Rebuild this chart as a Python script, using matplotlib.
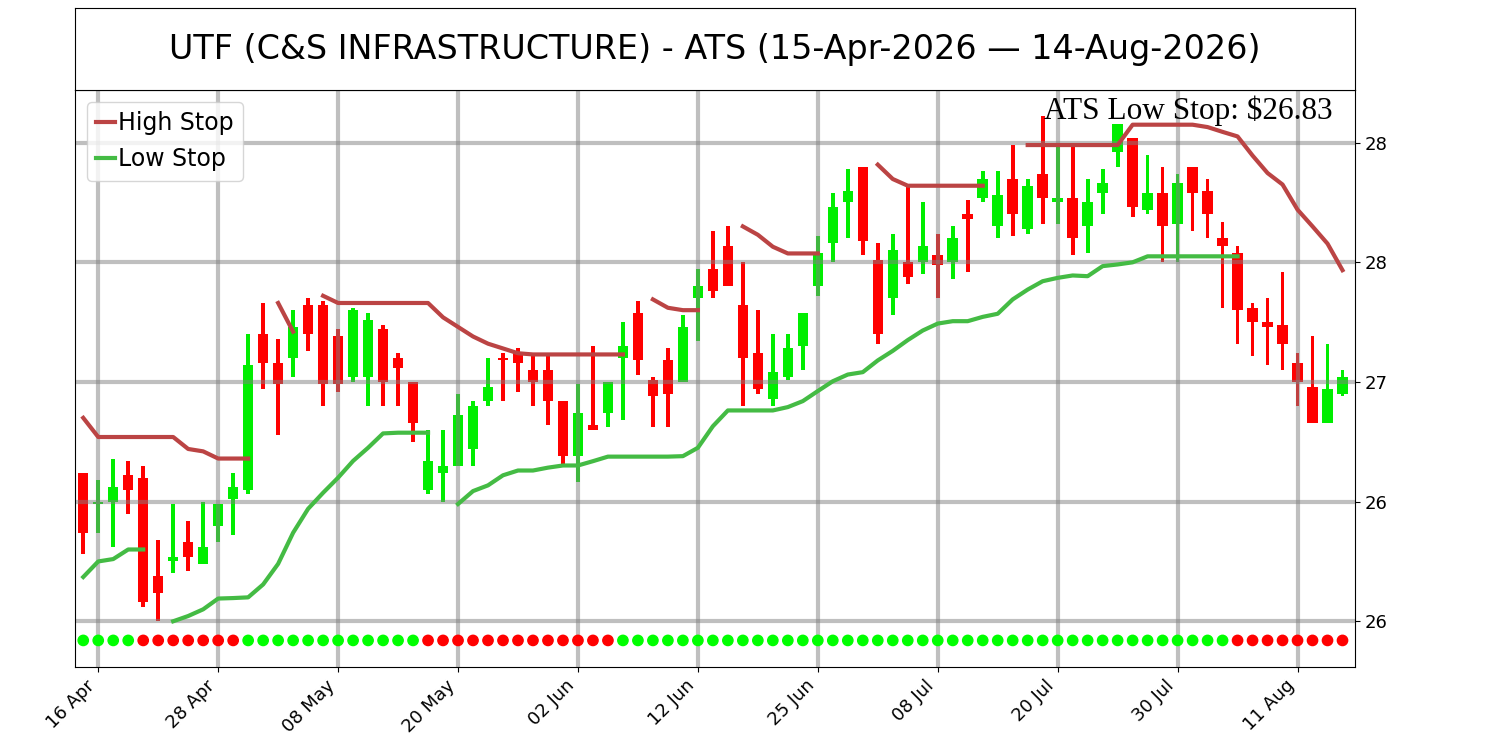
import numpy as np
import pandas as pd
import matplotlib
matplotlib.use("Agg")
import matplotlib.pyplot as plt
from matplotlib.ticker import MultipleLocator, FormatStrFormatter

# trading days 15 Apr - 14 Aug 2026 (US market holidays removed)
holidays = ["2026-05-25", "2026-06-19", "2026-07-03"]
dates = pd.bdate_range("2026-04-15", "2026-08-14", freq="C", holidays=holidays)

opens = [26.62, 26.49, 26.50, 26.61, 26.60, 26.19, 26.25, 26.33, 26.24, 26.40,
         26.51, 26.55, 27.20, 27.08, 27.10, 27.32, 27.32, 27.19, 27.02, 27.02,
         27.22, 27.10, 27.00, 26.55, 26.62, 26.65, 26.72, 26.92, 27.10, 27.12,
         27.05, 27.05, 26.92, 26.69, 26.82, 26.87, 27.10, 27.29, 27.01, 27.09,
         27.00, 27.35, 27.47, 27.57, 27.32, 27.12, 26.93, 27.02, 27.15, 27.40,
         27.58, 27.75, 27.90, 27.51, 27.35, 27.50, 27.50, 27.53, 27.50, 27.70,
         27.77, 27.65, 27.85, 27.64, 27.87, 27.75, 27.77, 27.65, 27.79, 27.96,
         28.02, 27.72, 27.79, 27.66, 27.90, 27.80, 27.60, 27.54, 27.31, 27.25,
         27.24, 27.08, 26.98, 26.83, 26.95]
highs = [26.62, 26.59, 26.68, 26.67, 26.65, 26.34, 26.49, 26.42, 26.50, 26.49,
         26.62, 27.20, 27.33, 27.18, 27.30, 27.35, 27.34, 27.22, 27.31, 27.29,
         27.24, 27.12, 27.00, 26.80, 26.80, 26.95, 26.92, 27.10, 27.12, 27.14,
         27.11, 27.12, 26.92, 26.99, 27.15, 27.00, 27.25, 27.34, 27.02, 27.14,
         27.28, 27.47, 27.63, 27.65, 27.50, 27.30, 27.20, 27.20, 27.29, 27.61,
         27.79, 27.89, 27.90, 27.58, 27.62, 27.82, 27.75, 27.62, 27.65, 27.76,
         27.88, 27.88, 27.99, 27.85, 28.11, 27.99, 28.00, 27.85, 27.89, 28.08,
         28.02, 27.95, 27.90, 27.87, 27.90, 27.85, 27.67, 27.57, 27.33, 27.35,
         27.46, 27.12, 27.19, 27.16, 27.05]
lows = [26.28, 26.37, 26.31, 26.45, 26.06, 26.00, 26.20, 26.21, 26.24, 26.33,
        26.36, 26.53, 26.97, 26.78, 27.02, 27.13, 26.90, 26.96, 27.00, 26.90,
        26.90, 26.90, 26.75, 26.53, 26.50, 26.65, 26.65, 26.90, 26.92, 26.96,
        26.90, 26.82, 26.65, 26.58, 26.80, 26.81, 26.84, 27.03, 26.81, 26.81,
        27.00, 27.17, 27.35, 27.40, 26.90, 26.95, 26.90, 27.01, 27.05, 27.36,
        27.50, 27.60, 27.53, 27.16, 27.28, 27.41, 27.45, 27.35, 27.43, 27.46,
        27.75, 27.60, 27.61, 27.62, 27.66, 27.66, 27.53, 27.54, 27.70, 27.90,
        27.69, 27.70, 27.50, 27.50, 27.63, 27.60, 27.31, 27.16, 27.11, 27.07,
        27.05, 26.90, 26.83, 26.83, 26.94]
closes = [26.37, 26.50, 26.56, 26.55, 26.08, 26.12, 26.27, 26.27, 26.31, 26.49,
          26.56, 27.07, 27.08, 26.99, 27.23, 27.20, 26.99, 26.99, 27.30, 27.26,
          27.00, 27.06, 26.83, 26.67, 26.65, 26.86, 26.90, 26.98, 27.09, 27.08,
          27.00, 26.92, 26.69, 26.87, 26.80, 27.00, 27.15, 27.09, 26.94, 26.95,
          27.23, 27.40, 27.38, 27.40, 27.10, 26.97, 27.04, 27.14, 27.29, 27.54,
          27.73, 27.80, 27.59, 27.20, 27.55, 27.44, 27.57, 27.49, 27.60, 27.68,
          27.85, 27.78, 27.70, 27.82, 27.77, 27.77, 27.60, 27.75, 27.83, 28.08,
          27.73, 27.79, 27.65, 27.83, 27.79, 27.70, 27.57, 27.30, 27.25, 27.23,
          27.16, 27.00, 26.83, 26.97, 27.02]

nan = np.nan
high_stop = [26.85, 26.77, 26.77, 26.77, 26.77, 26.77, 26.77, 26.72, 26.71, 26.68,
             26.68, 26.68, nan, 27.33, 27.21, nan, 27.36, 27.33, 27.33, 27.33,
             27.33, 27.33, 27.33, 27.33, 27.27, 27.23, 27.19, 27.16, 27.14, 27.12,
             27.115, 27.115, 27.115, 27.115, 27.115, 27.115, 27.115, nan, 27.345, 27.31,
             27.30, 27.30, nan, nan, 27.65, 27.615, 27.565, 27.537, 27.537, 27.537,
             nan, nan, nan, 27.908, 27.848, 27.82, 27.82, 27.82, 27.82, 27.82,
             27.82, nan, nan, 27.99, 27.99, 27.99, 27.99, 27.99, 27.99, 27.99,
             28.075, 28.075, 28.075, 28.075, 28.075, 28.065, 28.045, 28.026, 27.946, 27.873,
             27.825, 27.72, 27.65, 27.578, 27.467]
low_stop = [26.185, 26.25, 26.26, 26.30, 26.30, nan, 26.00, 26.022, 26.05, 26.095,
            26.097, 26.10, 26.154, 26.24, 26.37, 26.47, 26.537, 26.60, 26.67, 26.725,
            26.785, 26.788, 26.788, 26.788, nan, 26.49, 26.544, 26.568, 26.61, 26.63,
            26.63, 26.642, 26.651, 26.651, 26.669, 26.688, 26.688, 26.688, 26.688, 26.688,
            26.69, 26.725, 26.815, 26.881, 26.881, 26.881, 26.881, 26.895, 26.92, 26.962,
            27.003, 27.031, 27.041, 27.09, 27.13, 27.175, 27.215, 27.244, 27.254, 27.254,
            27.272, 27.285, 27.345, 27.386, 27.421, 27.435, 27.445, 27.442, 27.484, 27.491,
            27.50, 27.525, 27.525, 27.525, 27.525, 27.525, 27.525, 27.525, nan, nan,
            nan, nan, nan, nan, nan]

# trend dots along the bottom: 1 = up (green), 0 = down (red)
trend = [1] * 4 + [0] * 7 + [1] * 12 + [0] * 13 + [1] * 41 + [0] * 8
dot_level = 25.92
low_stop_text = "ATS Low Stop: \\$26.83"
title = "UTF (C&S INFRASTRUCTURE) - ATS (15-Apr-2026 \u2014 14-Aug-2026)"

x = np.arange(len(dates))
o = np.array(opens)
h = np.array(highs)
l = np.array(lows)
c = np.array(closes)
up = c >= o
cols = np.where(up, "#00ee00", "#ff0000")

fig = plt.figure(figsize=(15, 7.5), dpi=100)
ax = fig.add_axes([0.05, 0.111, 0.853, 0.769])
tax = fig.add_axes([0.05, 0.88, 0.853, 0.109])
tax.set_xticks([])
tax.set_yticks([])
tax.text(0.5, 0.5, title, ha="center", va="center", fontsize=24)

# candles: wick then body
ax.bar(x, h - l, bottom=l, width=0.25, color=cols, zorder=1)
body = np.maximum(np.abs(c - o), 0.008)
ax.bar(x, body, bottom=np.minimum(o, c), width=0.7, color=cols, zorder=1)

ax.plot(x, high_stop, color="#bb4444", lw=3, label="High Stop")
ax.plot(x, low_stop, color="#44bb44", lw=3, label="Low Stop")

dot_cols = ["#00ff00" if t else "#ff0000" for t in trend]
ax.scatter(x, np.full(len(x), dot_level), c=dot_cols, s=55, zorder=3)

ax.text(0.983, 0.99, low_stop_text, transform=ax.transAxes, ha="right", va="top",
        fontsize=22.5, family="Liberation Serif")

ax.set_xlim(-0.55, 84.8)
ax.set_ylim(25.81, 28.22)
ax.yaxis.tick_right()
ax.yaxis.set_major_locator(MultipleLocator(0.5))
ax.yaxis.set_major_formatter(FormatStrFormatter("%.0f"))
ax.tick_params(axis="y", labelsize=13)

tick_pos = x[1::8]
ax.set_xticks(tick_pos)
ax.set_xticklabels([dates[i].strftime("%d %b") for i in tick_pos],
                   rotation=45, ha="right", fontsize=13)

ax.grid(True, color="gray", alpha=0.5, lw=3)
ax.legend(loc="upper left", fontsize=17, handlelength=0.8, handletextpad=0.1)

fig.savefig("out.png", dpi=100)
